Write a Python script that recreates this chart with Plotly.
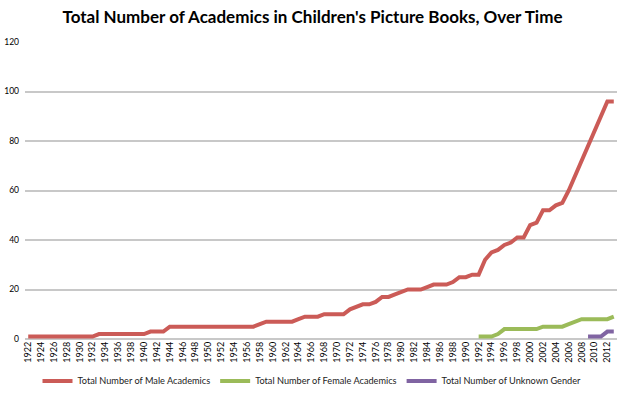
import plotly.graph_objects as go

years = list(range(1922, 2014))
male = ([1] * 11 + [2] * 8 + [3] * 3 + [5] * 14 + [6] + [7] * 5 + [8] + [9] * 3 + [10] * 4 +
        [12, 13, 14, 14, 15, 17, 17, 18, 19, 20, 20, 20, 21, 22, 22, 22, 23, 25, 25, 26, 26,
         32, 35, 36, 38, 39, 41, 41, 46, 47, 52, 52, 54, 55, 60, 66, 72, 77, 83, 90, 96, 96])

female_years = list(range(1992, 2014))
female = [1, 1, 1, 2, 4, 4, 4, 4, 4, 4, 5, 5, 5, 5, 6, 7, 8, 8, 8, 8, 8, 9]

unknown_years = list(range(2009, 2014))
unknown = [1, 1, 1, 3, 3]

tick_years = list(range(1922, 2013, 2))
tick_text = [str(y) for y in tick_years]
y_ticks = [0, 20, 40, 60, 80, 100, 120]

FONT = "Lato"

fig = go.Figure()
fig.add_trace(go.Scatter(x=years, y=male, mode="lines", name="Total Number of Male Academics",
                         line=dict(color="#CB5B57", width=4)))
fig.add_trace(go.Scatter(x=female_years, y=female, mode="lines", name="Total Number of Female Academics",
                         line=dict(color="#9BBB59", width=4)))
fig.add_trace(go.Scatter(x=unknown_years, y=unknown, mode="lines", name="Total Number of Unknown Gender",
                         line=dict(color="#8064A2", width=4)))

fig.update_layout(
    width=625, height=398,
    margin=dict(l=25, r=8, t=42, b=59),
    paper_bgcolor="white", plot_bgcolor="white",
    font=dict(family=FONT, size=9, color="#000000"),
    title=dict(text="<b>Total Number of Academics in Children's Picture Books, Over Time</b>",
               x=0.5, xanchor="center", y=0.957, yanchor="middle", automargin=False,
               font=dict(family=FONT, size=17, color="#000000")),
    showlegend=True,
    legend=dict(orientation="h", xref="container", yref="container", x=0.06, xanchor="left",
                y=0.043, yanchor="middle",
                font=dict(family=FONT, size=9.2, color="#222222"),
                itemwidth=30, bgcolor="rgba(0,0,0,0)"),
)
fig.update_xaxes(range=[1921.5, 2013.5], tickmode="array", tickvals=tick_years, ticktext=tick_text,
                 tickangle=-90, showgrid=False, zeroline=False, showline=False, automargin=False,
                 tickfont=dict(family=FONT, size=9, color="#000000"), ticks="", ticklen=0)
fig.update_yaxes(range=[0, 120], tickmode="array", tickvals=y_ticks, showgrid=True, automargin=False,
                 gridcolor="#C8C8C8", gridwidth=1.5, zeroline=True, zerolinecolor="#C8C8C8",
                 zerolinewidth=1.5, showline=False, ticks="", ticklabelstandoff=5,
                 tickfont=dict(family=FONT, size=8.5, color="#000000"))

fig.write_html("out.html", config={"displayModeBar": False},
               post_script="document.body.style.margin='0px';")
